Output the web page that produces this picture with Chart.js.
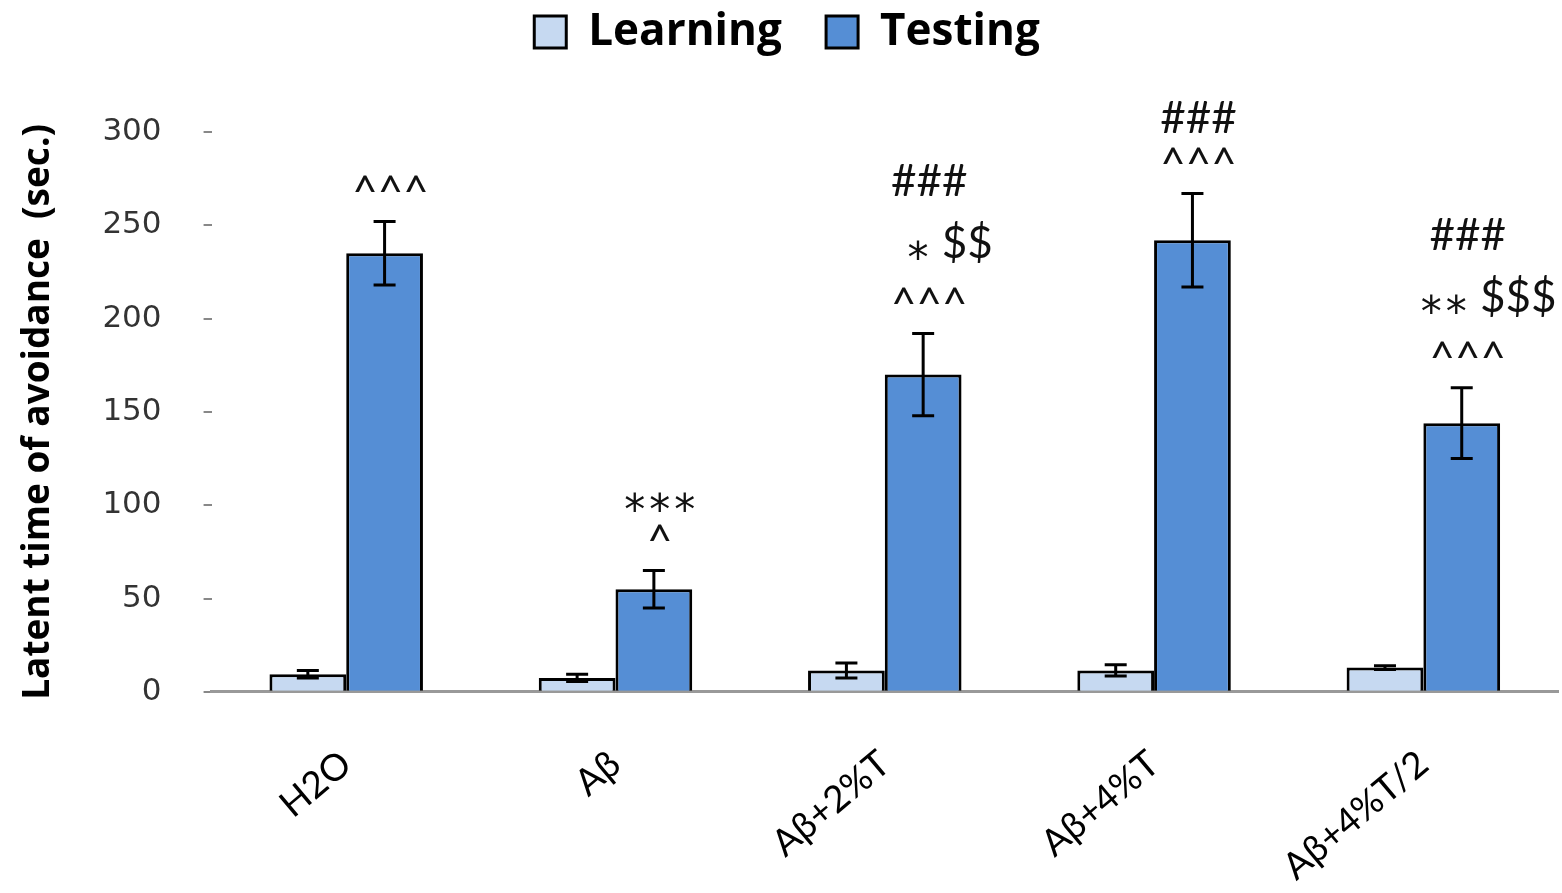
<!DOCTYPE html>
<html>
<head>
<meta charset="utf-8">
<script src="https://cdn.jsdelivr.net/npm/chart.js@4/dist/chart.umd.min.js"></script>
<style>
  html, body { margin: 0; padding: 0; background: #fff; }
  #wrap { width: 1562px; height: 893px; }
</style>
</head>
<body>
<div id="wrap"><canvas id="barChart"></canvas></div>
<script>
const groups = ['H2O', 'Aβ', 'Aβ+2%T', 'Aβ+4%T', 'Aβ+4%T/2'];
const learning = [9.5, 7.5, 11.5, 11.5, 13];
const learningErr = [2, 2, 4, 3, 1];
const testing = [235, 55, 170, 242, 144];
const testingErr = [17, 10, 22, 25, 19];
const yTicks = [0, 50, 100, 150, 200, 250, 300];

// significance marks above the Testing bars, top line first
const marks = [
  ['^^^'],
  ['***', '^'],
  ['###', '* $$', '^^^'],
  ['###', '^^^'],
  ['###', '** $$$', '^^^']
];

const errorBars = {
  id: 'errorBars',
  afterDatasetsDraw(chart) {
    const ctx = chart.ctx;
    const y = chart.scales.y;
    const errs = [learningErr, testingErr];
    ctx.save();
    ctx.strokeStyle = '#000';
    ctx.lineWidth = 3;
    chart.data.datasets.forEach((ds, di) => {
      chart.getDatasetMeta(di).data.forEach((bar, i) => {
        const v = ds.data[i], e = errs[di][i];
        const top = y.getPixelForValue(v + e), bot = y.getPixelForValue(v - e);
        const cap = 11;
        ctx.beginPath();
        ctx.moveTo(bar.x, top); ctx.lineTo(bar.x, bot);
        ctx.moveTo(bar.x - cap, top); ctx.lineTo(bar.x + cap, top);
        ctx.moveTo(bar.x - cap, bot); ctx.lineTo(bar.x + cap, bot);
        ctx.stroke();
      });
    });
    ctx.restore();
  }
};

// draws one line of marks; asterisks are lowered to sit mid-height
function drawMarkLine(ctx, text, cx, baseY) {
  const norm = '44px Lato, "Open Sans", sans-serif';
  const star = '42px "DejaVu Sans", sans-serif';
  const parts = text.split('').map(ch => {
    ctx.font = ch === '*' ? star : norm;
    return { ch, w: ctx.measureText(ch).width + (ch === '*' ? 4 : 0) };
  });
  const total = parts.reduce((s, p) => s + p.w, 0);
  let x = cx - total / 2;
  parts.forEach(p => {
    ctx.font = p.ch === '*' ? star : norm;
    ctx.fillText(p.ch, x + p.w / 2, p.ch === '*' ? baseY + 14 : baseY);
    x += p.w;
  });
}

const sigMarks = {
  id: 'sigMarks',
  afterDatasetsDraw(chart) {
    const ctx = chart.ctx;
    const y = chart.scales.y;
    const meta = chart.getDatasetMeta(1);
    ctx.save();
    ctx.fillStyle = '#111';
    ctx.textAlign = 'center';
    ctx.textBaseline = 'alphabetic';
    marks.forEach((lines, i) => {
      const bar = meta.data[i];
      let base = y.getPixelForValue(testing[i] + testingErr[i]) - 14;
      for (let k = lines.length - 1; k >= 0; k--) {
        const t = lines[k];
        const hasDollar = t.indexOf('$') >= 0;
        if (k < lines.length - 1) base -= (hasDollar || lines[k + 1].indexOf('$') >= 0) ? 62 : 47;
        drawMarkLine(ctx, t, bar.x + 6 + (hasDollar ? 20 : 0), base);
      }
    });
    ctx.restore();
  }
};

const legendGap = {
  id: 'legendGap',
  beforeInit(chart) {
    const fit = chart.legend.fit;
    chart.legend.fit = function () {
      fit.bind(chart.legend)();
      this.height += 68;
    };
  }
};

new Chart(document.getElementById('barChart'), {
  type: 'bar',
  data: {
    labels: groups,
    datasets: [
      {
        label: 'Learning   ',
        data: learning,
        backgroundColor: '#c6d9f1',
        borderColor: '#000',
        borderWidth: 3,
        borderSkipped: 'bottom'
      },
      {
        label: 'Testing',
        data: testing,
        backgroundColor: '#558ed5',
        borderColor: '#000',
        borderWidth: 3,
        borderSkipped: 'bottom'
      }
    ]
  },
  options: {
    responsive: true,
    maintainAspectRatio: false,
    animation: false,
    layout: { padding: { top: 0, right: 4, left: 16, bottom: -38 } },
    datasets: { bar: { categoryPercentage: 0.57, barPercentage: 1 } },
    plugins: {
      tooltip: { enabled: false },
      legend: {
        position: 'top',
        labels: {
          boxWidth: 32,
          boxHeight: 32,
          padding: 10,
          color: '#000',
          font: { family: '"Open Sans", sans-serif', size: 44, weight: 'bold' }
        }
      }
    },
    scales: {
      x: {
        grid: { display: false },
        border: { color: '#999', width: 3 },
        ticks: {
          minRotation: 40,
          maxRotation: 40,
          color: '#000',
          padding: 42,
          font: { family: 'Lato, sans-serif', size: 37 }
        }
      },
      y: {
        min: 0,
        max: 300,
        afterBuildTicks(axis) { axis.ticks = yTicks.map(v => ({ value: v })); },
        border: { display: false },
        grid: { drawOnChartArea: false, drawTicks: true, tickLength: 8, color: '#888', lineWidth: 2 },
        title: {
          display: true,
          text: 'Latent time of avoidance  (sec.)',
          color: '#000',
          padding: { top: 0, bottom: 0 },
          font: { family: '"Open Sans", sans-serif', size: 37, weight: 'bold' }
        },
        ticks: {
          color: '#333',
          padding: 42,
          font: { family: '"DejaVu Sans", sans-serif', size: 31 }
        }
      }
    }
  },
  plugins: [errorBars, sigMarks, legendGap]
});
</script>
</body>
</html>
